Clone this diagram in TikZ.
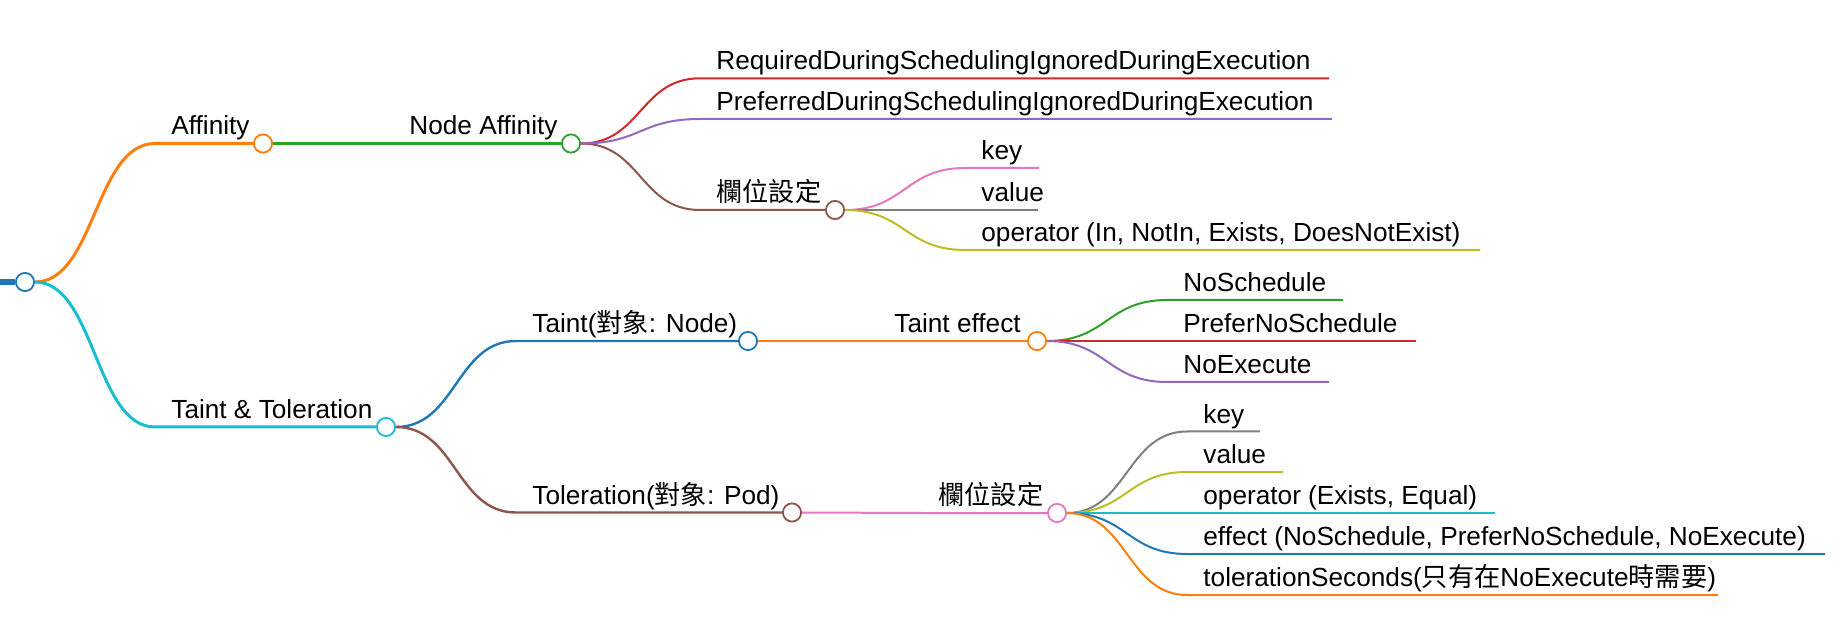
\documentclass[tikz,border=0pt]{standalone}
\usepackage{fontspec}
\setmainfont{Liberation Sans}
\newfontfamily\cjk{Noto Sans CJK TC}
\usepackage{tikz}
\definecolor{mmblue}{HTML}{1F77B4}
\definecolor{mmorange}{HTML}{FF7F0E}
\definecolor{mmgreen}{HTML}{2CA02C}
\definecolor{mmred}{HTML}{D62728}
\definecolor{mmpurple}{HTML}{9467BD}
\definecolor{mmbrown}{HTML}{8C564B}
\definecolor{mmpink}{HTML}{E377C2}
\definecolor{mmgray}{HTML}{7F7F7F}
\definecolor{mmolive}{HTML}{BCBD22}
\definecolor{mmcyan}{HTML}{17BECF}

\begin{document}
\begin{tikzpicture}[x=0.5pt, y=-0.5pt,
	every node/.style={font=\fontsize{13.1}{16}\selectfont},
	dot/.style={circle, draw=#1, fill=white, line width=0.9pt, minimum size=9.1pt, inner sep=0pt},
	lbl/.style={anchor=base west, inner sep=0pt}]
	\useasboundingbox (0,0) rectangle (1839,619);
	\node[dot=mmblue] (root) at (25,282) {};
	\draw[mmblue, line width=3pt] (0,282) -- (root.west);
	\foreach \nm/\up/\y/\xs/\xe/\col/\w/\txt in {
		aff/root/143.5/155/263/mmorange/1.5/Affinity,
		tt/root/427/155/386/mmcyan/1.5/{Taint \& Toleration},
		naff/aff/143.5/393/571/mmgreen/1.2/{Node Affinity},
		taint/tt/341/516/748/mmblue/1.2/{Taint({\cjk 對象}: Node)},
		tol/tt/512.5/516/792/mmbrown/1.2/{Toleration({\cjk 對象}: Pod)},
		fa/naff/210/700/835/mmbrown/1/{\cjk 欄位設定},
		eff/taint/341/878/1037/mmorange/1/{Taint effect},
		fb/tol/513/922/1057/mmpink/1/{\cjk 欄位設定}} {
		\node[dot=\col] (\nm) at (\xe,\y) {};
		\draw[\col, line width=\w pt] (\up.east) .. controls +(60,0) and +(-60,0) .. (\xs,\y) -- (\nm.west);
		\node[lbl] (\nm-t) at ({\xs+16},{\y-8.5}) {\txt};
	}
	\foreach \nm/\up/\y/\xs/\xe/\col/\txt in {
		ra/naff/78.3/700/1329/mmred/RequiredDuringSchedulingIgnoredDuringExecution,
		pa/naff/119/700/1332/mmpurple/PreferredDuringSchedulingIgnoredDuringExecution,
		ka/fa/168/965/1039/mmpink/key,
		va/fa/210/965/1038/mmgray/value,
		oa/fa/250/965/1480/mmolive/{operator (In, NotIn, Exists, DoesNotExist)},
		ns/eff/300/1167/1343/mmgreen/NoSchedule,
		pns/eff/341/1167/1416/mmred/PreferNoSchedule,
		ne/eff/382/1167/1329/mmpurple/NoExecute,
		kb/fb/431.5/1187/1260/mmgray/key,
		vb/fb/472/1187/1283/mmolive/value,
		ob/fb/513/1187/1495/mmcyan/{operator (Exists, Equal)},
		eb/fb/554/1187/1825/mmblue/{effect (NoSchedule, PreferNoSchedule, NoExecute)},
		sb/fb/595/1187/1718/mmorange/{tolerationSeconds({\cjk 只有在}NoExecute{\cjk 時需要})}} {
		\coordinate (\nm) at (\xe,\y);
		\draw[\col, line width=1pt] (\up.east) .. controls +(60,0) and +(-60,0) .. (\xs,\y) -- (\nm);
		\node[lbl] (\nm-t) at ({\xs+16},{\y-8.5}) {\txt};
	}
\end{tikzpicture}
\end{document}
